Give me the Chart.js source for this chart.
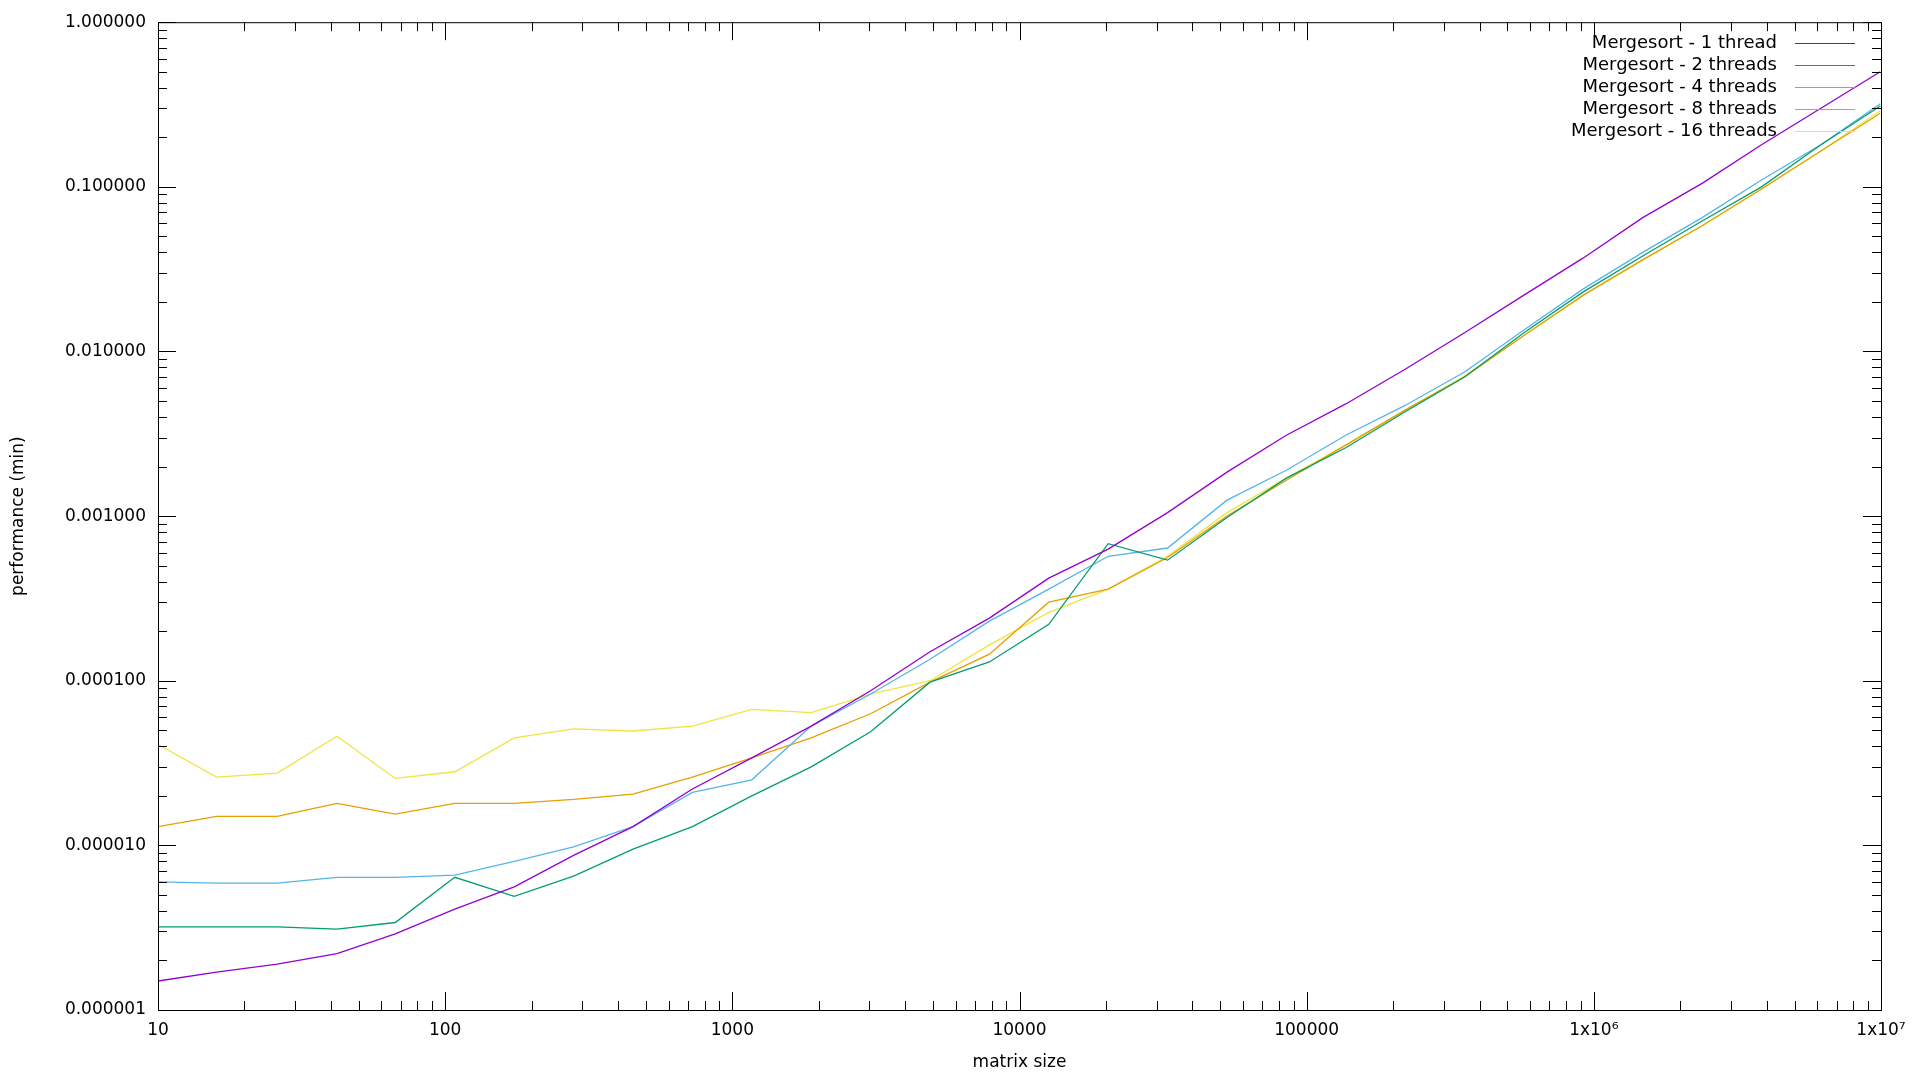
<!DOCTYPE html>
<html>
<head>
<meta charset="utf-8">
<script src="https://cdn.jsdelivr.net/npm/chart.js@4/dist/chart.umd.min.js"></script>
<style>
html,body{margin:0;padding:0;background:#fff;}
#wrap{width:1920px;height:1080px;}
</style>
</head>
<body>
<div id="wrap"><canvas id="chart" width="1920" height="1080"></canvas></div>
<script>
// matrix sizes (x)
const sizes = [10,16,26,42,67,108,174,280,451,726,1169,1882,3030,4879,7855,12646,20361,32781,52777,84971,
    136804,220255,354611,570923,919186,1479889,2382622,3836022,6176001,9943362];

const oneThread = [1.5e-6,1.7e-6,1.9e-6,2.2e-6,2.9e-6,4.1e-6,5.6e-6,8.7e-6,1.3e-5,2.2e-5,3.4e-5,5.3e-5,8.7e-5,1.5e-4,2.4e-4,
    4.2e-4,6.3e-4,1.05e-3,1.85e-3,3.1e-3,4.8e-3,7.8e-3,0.013,0.022,0.037,0.065,0.105,0.18,0.3,0.5];
const twoThreads = [3.2e-6,3.2e-6,3.2e-6,3.1e-6,3.4e-6,6.4e-6,4.9e-6,6.5e-6,9.5e-6,1.3e-5,2.0e-5,3.0e-5,4.9e-5,9.8e-5,1.3e-4,
    2.2e-4,6.8e-4,5.4e-4,9.8e-4,1.7e-3,2.6e-3,4.3e-3,7.0e-3,0.013,0.023,0.038,0.062,0.10,0.18,0.31];
const fourThreads = [6.0e-6,5.9e-6,5.9e-6,6.4e-6,6.4e-6,6.6e-6,8.0e-6,9.8e-6,1.3e-5,2.1e-5,2.5e-5,5.3e-5,8.3e-5,1.35e-4,2.3e-4,
    3.6e-4,5.7e-4,6.4e-4,1.25e-3,1.9e-3,3.1e-3,4.7e-3,7.5e-3,0.0135,0.024,0.04,0.065,0.11,0.18,0.32];
const eightThreads = [1.3e-5,1.5e-5,1.5e-5,1.8e-5,1.55e-5,1.8e-5,1.8e-5,1.9e-5,2.05e-5,2.6e-5,3.4e-5,4.5e-5,6.3e-5,9.8e-5,1.45e-4,
    3.0e-4,3.6e-4,5.6e-4,1.0e-3,1.65e-3,2.7e-3,4.4e-3,7.0e-3,0.0125,0.022,0.036,0.058,0.097,0.165,0.28];
const sixteenThreads = [4.1e-5,2.6e-5,2.75e-5,4.6e-5,2.55e-5,2.8e-5,4.5e-5,5.1e-5,4.95e-5,5.3e-5,6.7e-5,6.4e-5,8.3e-5,1.0e-4,1.65e-4,
    2.6e-4,3.6e-4,5.7e-4,1.05e-3,1.7e-3,2.7e-3,4.4e-3,7.1e-3,0.0125,0.022,0.036,0.058,0.097,0.165,0.29];

const seriesNames = ["Mergesort - 1 thread","Mergesort - 2 threads","Mergesort - 4 threads","Mergesort - 8 threads","Mergesort - 16 threads"];
const seriesColors = ["#9400d3","#009e73","#56b4e9","#e69f00","#f0e442"];
const seriesValues = [oneThread,twoThreads,fourThreads,eightThreads,sixteenThreads];

const xDecades = [10,100,1000,10000,100000,1e6,1e7];
const xLabels = ["10","100","1000","10000","100000","1x10\u2076","1x10\u2077"];
const yDecades = [1e-6,1e-5,1e-4,1e-3,1e-2,1e-1,1];
const yLabels = ["0.000001","0.000010","0.000100","0.001000","0.010000","0.100000","1.000000"];

const FONT = "17px 'DejaVu Sans', sans-serif";

// gnuplot style frame, inward ticks, legend and axis titles
const gnuplotLook = {
    id: "gnuplotLook",
    afterDraw(c){
        const ctx = c.ctx, a = c.chartArea, xs = c.scales.x, ys = c.scales.y;
        ctx.save();
        ctx.strokeStyle = "#000"; ctx.lineWidth = 1;
        ctx.strokeRect(a.left+0.5, a.top+0.5, a.right-a.left, a.bottom-a.top);
        ctx.beginPath();
        for(let d=1; d<1e7; d*=10){
            for(let m=1; m<10; m++){
                const v = d*m;
                if(v<10 || v>1e7) continue;
                const px = Math.round(xs.getPixelForValue(v))+0.5;
                const len = m===1 ? 18 : 9;
                ctx.moveTo(px,a.bottom); ctx.lineTo(px,a.bottom-len);
                ctx.moveTo(px,a.top); ctx.lineTo(px,a.top+len);
            }
        }
        for(let d=1e-6; d<=1; d*=10){
            for(let m=1; m<10; m++){
                const v = d*m;
                if(v>1.0000001) continue;
                const py = Math.round(ys.getPixelForValue(v))+0.5;
                const len = m===1 ? 18 : 9;
                ctx.moveTo(a.left,py); ctx.lineTo(a.left+len,py);
                ctx.moveTo(a.right,py); ctx.lineTo(a.right-len,py);
            }
        }
        ctx.stroke();

        // legend
        ctx.font = "18px 'DejaVu Sans', sans-serif";
        ctx.textBaseline = "middle"; ctx.textAlign = "right"; ctx.fillStyle = "#000";
        c.data.datasets.forEach((ds,i)=>{
            const y = 43 + i*22;
            ctx.fillText(ds.label, 1777, y);
            ctx.strokeStyle = ds.borderColor; ctx.lineWidth = 1;
            ctx.beginPath(); ctx.moveTo(1795,y+0.5); ctx.lineTo(1855,y+0.5); ctx.stroke();
        });

        // axis titles
        ctx.font = FONT; ctx.textAlign = "center"; ctx.fillStyle = "#000";
        ctx.fillText("matrix size", (a.left+a.right)/2, 1063);
        ctx.translate(19,(a.top+a.bottom)/2); ctx.rotate(-Math.PI/2);
        ctx.fillText("performance (min)",0,0);
        ctx.restore();
    }
};

new Chart(document.getElementById("chart").getContext("2d"), {
    type: "line",
    data: {
        datasets: seriesNames.map((n,i)=>({
            label: n,
            data: sizes.map((s,j)=>({x:s, y:seriesValues[i][j]})),
            borderColor: seriesColors[i],
            backgroundColor: seriesColors[i],
            borderWidth: 1.3,
            pointRadius: 0,
            tension: 0,
            fill: false
        }))
    },
    options: {
        responsive: false,
        animation: false,
        layout: { padding: { left: 0, right: 39, top: 22, bottom: 0 } },
        plugins: { legend: { display: false }, tooltip: { enabled: false } },
        scales: {
            x: {
                type: "logarithmic", min: 10, max: 1e7,
                grid: { display: false, drawTicks: false }, border: { display: false },
                afterBuildTicks: s => { s.ticks = xDecades.map(v=>({value:v})); },
                afterFit: s => { s.height = 70; },
                ticks: { color: "#000", font: { family: "'DejaVu Sans', sans-serif", size: 17 }, padding: 10,
                    maxRotation: 0, autoSkip: false,
                    callback: v => { const k = xDecades.indexOf(v); return k<0 ? "" : xLabels[k]; } }
            },
            y: {
                type: "logarithmic", min: 1e-6, max: 1,
                grid: { display: false, drawTicks: false }, border: { display: false },
                afterBuildTicks: s => { s.ticks = yDecades.map(v=>({value:v})); },
                afterFit: s => { s.width = 158; },
                ticks: { color: "#000", font: { family: "'DejaVu Sans', sans-serif", size: 17 }, padding: 12,
                    autoSkip: false,
                    callback: v => { const k = yDecades.findIndex(d=>Math.abs(d-v)/d<1e-6); return k<0 ? "" : yLabels[k]; } }
            }
        }
    },
    plugins: [gnuplotLook]
});
</script>
</body>
</html>
